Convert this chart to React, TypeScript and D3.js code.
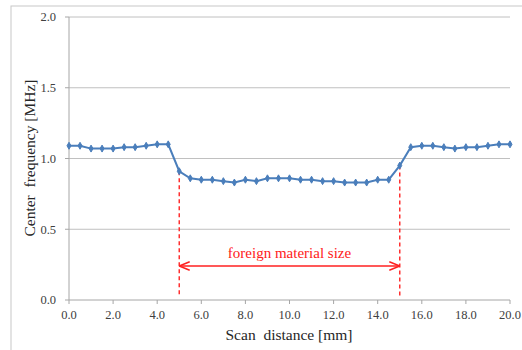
import React from "react";
import * as d3 from "d3";

// scan positions [mm] and measured center frequency [MHz]
const positions = d3.range(0, 20.01, 0.5).map((v) => +v.toFixed(1));
const frequencies = [
    1.09, 1.09, 1.07, 1.07, 1.07, 1.08, 1.08, 1.09, 1.1, 1.1,
    0.91, 0.86, 0.85, 0.85, 0.84, 0.83, 0.85, 0.84, 0.86, 0.86,
    0.86, 0.85, 0.85, 0.84, 0.84, 0.83, 0.83, 0.83, 0.85, 0.85,
    0.95, 1.08, 1.09, 1.09, 1.08, 1.07, 1.08, 1.08, 1.09, 1.1, 1.1,
];
const xTicks = [0, 2, 4, 6, 8, 10, 12, 14, 16, 18, 20];
const yTicks = [0, 0.5, 1.0, 1.5, 2.0];
const defectEdges = [5, 15];
const defectLabel = "foreign material size";

const W = 522;
const H = 350;
const margin = { left: 69, right: 12, top: 17, bottom: 50 };

const App = () => {
    const x = d3.scaleLinear().domain([0, 20]).range([margin.left, W - margin.right]);
    const y = d3.scaleLinear().domain([0, 2]).range([H - margin.bottom, margin.top]);

    const points = positions.map((p, i) => ({ p, f: frequencies[i] }));
    const line = d3
        .line<{ p: number; f: number }>()
        .x((d) => x(d.p))
        .y((d) => y(d.f));

    const edgeValue = (pos: number) => points.find((d) => d.p === pos)!.f;
    const arrowY = y(0.24);
    const tickColor = "#404040";
    const font = "'Liberation Serif', 'Times New Roman', serif";

    return (
        <svg
            width={W}
            height={H}
            style={{ position: "absolute", left: 0, top: 0, background: "#fff" }}
            fontFamily={font}
        >
            <defs>
                <marker id="arrow" viewBox="0 0 10 10" refX="9" refY="5" markerWidth="7" markerHeight="7" orient="auto-start-reverse">
                    <path d="M0,1 L10,5 L0,9" fill="none" stroke="#ff2020" strokeWidth="1.5" />
                </marker>
            </defs>
            {/* outer chart frame */}
            <rect x={11} y={6} width={W} height={H} fill="none" stroke="#c8c8c8" strokeWidth={1} />

            {/* gridlines */}
            {yTicks.slice(1).map((t) => (
                <line key={t} x1={x(0)} x2={x(20)} y1={y(t)} y2={y(t)} stroke="#c0c0c0" strokeWidth={1} />
            ))}
            {/* axes */}
            <line x1={x(0)} x2={x(0)} y1={y(0)} y2={y(2)} stroke="#a6a6a6" />
            <line x1={x(0)} x2={x(20)} y1={y(0)} y2={y(0)} stroke="#a6a6a6" />
            {yTicks.map((t) => (
                <g key={t}>
                    <line x1={x(0) - 4} x2={x(0)} y1={y(t)} y2={y(t)} stroke="#a6a6a6" />
                    <text x={56} y={y(t)} dy="0.35em" textAnchor="end" fontSize={12.5} fill={tickColor}>
                        {t.toFixed(1)}
                    </text>
                </g>
            ))}
            {xTicks.map((t) => (
                <g key={t}>
                    <line x1={x(t)} x2={x(t)} y1={y(0)} y2={y(0) + 4} stroke="#a6a6a6" />
                    <text x={x(t)} y={319} textAnchor="middle" fontSize={12.5} fill={tickColor}>
                        {t.toFixed(1)}
                    </text>
                </g>
            ))}

            {/* defect markers */}
            {defectEdges.map((e) => (
                <line key={e} x1={x(e)} x2={x(e)} y1={y(edgeValue(e))} y2={y(0) - 3} stroke="#ff3030" strokeWidth={1.5} strokeDasharray="4,3" />
            ))}
            <line
                x1={x(defectEdges[0]) + 1}
                x2={x(defectEdges[1]) - 1}
                y1={arrowY}
                y2={arrowY}
                stroke="#ff2020"
                strokeWidth={1.5}
                markerStart="url(#arrow)"
                markerEnd="url(#arrow)"
            />
            <text x={(x(defectEdges[0]) + x(defectEdges[1])) / 2} y={258} textAnchor="middle" fontSize={15} fill="#ff2020">
                {defectLabel}
            </text>

            {/* series */}
            <path d={line(points) ?? ""} fill="none" stroke="#4a7ebb" strokeWidth={2} />
            {points.map((d) => (
                <path
                    key={d.p}
                    d={d3.symbol(d3.symbolDiamond, 14)() ?? ""}
                    transform={`translate(${x(d.p)},${y(d.f)})`}
                    fill="#4a7ebb"
                    stroke="#4a7ebb"
                />
            ))}

            {/* axis titles */}
            <text x={289} y={340} textAnchor="middle" fontSize={15.5} fill="#262626" style={{ whiteSpace: "pre" }}>
                Scan  distance [mm]
            </text>
            <text transform={`translate(35,158) rotate(-90)`} textAnchor="middle" fontSize={15.5} fill="#262626" style={{ whiteSpace: "pre" }}>
                Center  frequency [MHz]
            </text>
        </svg>
    );
};

export default App;
